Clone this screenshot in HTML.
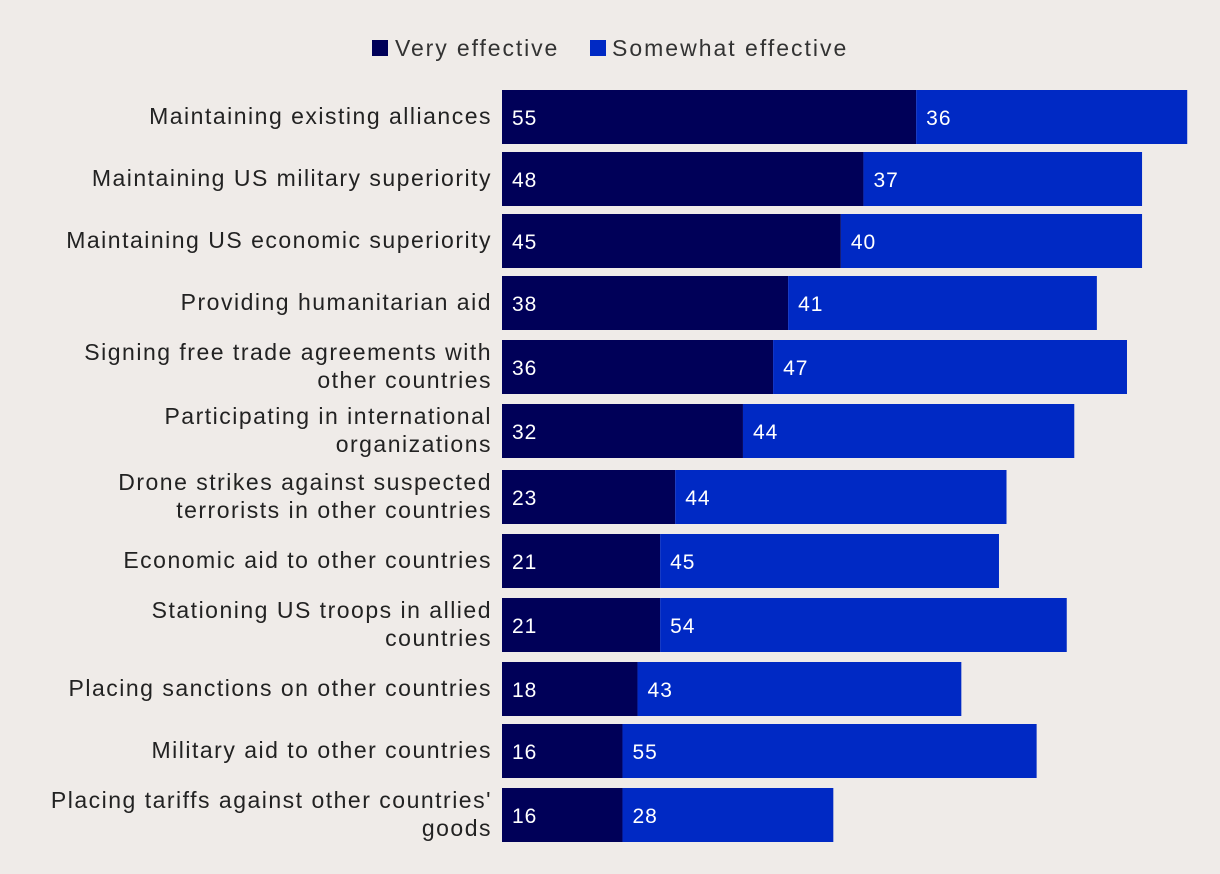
<!DOCTYPE html>
<html><head><meta charset="utf-8"><style>
body{margin:0;background:#efebe8;width:1220px;height:874px;overflow:hidden;font-family:"Liberation Sans",sans-serif;}
svg{display:block}
</style></head><body>
<svg id="chart" width="1220" height="874" xmlns="http://www.w3.org/2000/svg">
<g>
<rect x="372" y="40" width="16" height="16" fill="#000058"/>
<text x="395" y="56" font-size="23" letter-spacing="1.9" fill="#333">Very effective</text>
<rect x="590" y="40" width="16" height="16" fill="#0029c4"/>
<text x="612" y="56" font-size="23" letter-spacing="2" fill="#333">Somewhat effective</text>
</g>
<g id="bars"></g>
</svg>
<script>
const categories=[["Maintaining existing alliances"],["Maintaining US military superiority"],["Maintaining US economic superiority"],["Providing humanitarian aid"],["Signing free trade agreements with","other countries"],["Participating in international","organizations"],["Drone strikes against suspected","terrorists in other countries"],["Economic aid to other countries"],["Stationing US troops in allied","countries"],["Placing sanctions on other countries"],["Military aid to other countries"],["Placing tariffs against other countries'","goods"]];
const veryEffective=[55,48,45,38,36,32,23,21,21,18,16,16];
const somewhatEffective=[36,37,40,41,47,44,44,45,54,43,55,28];

const x0=502, scale=7.53, barH=54;
const rowTops=[90,152,214,276,340,404,470,534,598,662,724,788];
const xs=v=>x0+v*scale;
const g=document.getElementById('bars');
const NS="http://www.w3.org/2000/svg";
function mk(tag,attrs){const e=document.createElementNS(NS,tag);for(const k in attrs)e.setAttribute(k,attrs[k]);return e;}
categories.forEach((c,i)=>{
  const top=rowTops[i], v1=veryEffective[i], v2=somewhatEffective[i];
  const r1=mk('rect',{x:x0,y:top,width:xs(v1)-x0,height:barH,fill:'#000058'});
  
  
  g.appendChild(r1);
  const r2=mk('rect',{x:xs(v1),y:top,width:xs(v1+v2)-xs(v1),height:barH,fill:'#0029c4'});
  
  
  g.appendChild(r2);
  const t1=mk('text',{x:x0+10,y:top+35,'font-size':21,'letter-spacing':1,fill:'#fff'});t1.textContent=v1;
  
  
  g.appendChild(t1);
  const t2=mk('text',{x:xs(v1)+10,y:top+35,'font-size':21,'letter-spacing':1,fill:'#fff'});t2.textContent=v2;
  
  
  g.appendChild(t2);
  const lab=mk('text',{x:491,'text-anchor':'end','font-size':23,'letter-spacing':1.5,fill:'#222'});
  
  
  const startY=c.length===1?top+34:top+20;
  c.forEach((line,j)=>{const ts=mk('tspan',{x:492,y:startY+j*28});ts.textContent=line;lab.appendChild(ts);});
  g.appendChild(lab);
});
</script>
</body></html>
